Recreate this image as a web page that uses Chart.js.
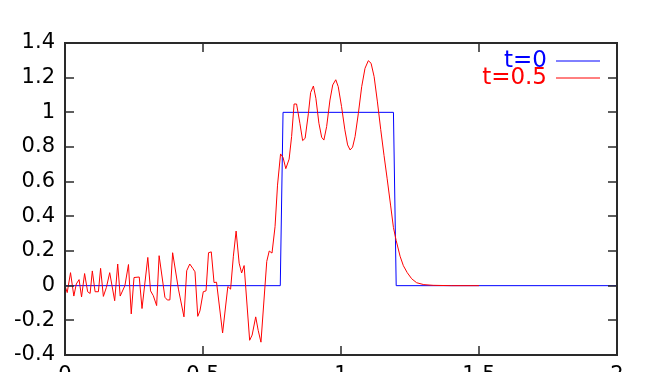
<!DOCTYPE html>
<html>
<head>
<meta charset="utf-8">
<script src="https://cdn.jsdelivr.net/npm/chart.js@4/dist/chart.umd.min.js"></script>
<style>
  html, body { margin: 0; padding: 0; background: #fff; overflow: hidden; }
  #wrap { width: 645px; height: 372px; }
  canvas { display: block; }
</style>
</head>
<body>
<div id="wrap"><canvas id="chart" width="645" height="372"></canvas></div>
<script>
// series names as shown in the key
const seriesNames = ['t=0', 't=0.5']
const seriesColours = ['#0000ff', '#ff0000']

// t=0 : the initial square pulse
const stepX = [0, 0.78, 0.79, 1.19, 1.2, 2]
const stepY = [0, 0, 1, 1, 0, 0]

// t=0.5
const waveX = [
  0, 0.008, 0.02, 0.032, 0.041, 0.051, 0.06, 0.071, 0.082, 0.091,
  0.099, 0.109, 0.121, 0.129, 0.139, 0.15, 0.162, 0.18, 0.191, 0.2,
  0.217, 0.23, 0.24, 0.25, 0.269, 0.279, 0.3, 0.31, 0.32, 0.332,
  0.341, 0.362, 0.371, 0.38, 0.39, 0.411, 0.431, 0.441, 0.452, 0.463,
  0.471, 0.481, 0.489, 0.501, 0.511, 0.52, 0.53, 0.54, 0.549, 0.571,
  0.59, 0.6, 0.61, 0.62, 0.631, 0.64, 0.649, 0.669, 0.678, 0.691,
  0.7, 0.71, 0.731, 0.74, 0.75, 0.761, 0.77, 0.781, 0.79, 0.8,
  0.812, 0.821, 0.83, 0.839, 0.851, 0.861, 0.87, 0.882, 0.89, 0.9,
  0.909, 0.92, 0.93, 0.938, 0.948, 0.96, 0.97, 0.981, 0.99, 1.002,
  1.014, 1.024, 1.033, 1.042, 1.051, 1.063, 1.075, 1.087, 1.099, 1.109,
  1.12, 1.132, 1.144, 1.156, 1.167, 1.18, 1.19, 1.2, 1.214, 1.226,
  1.24, 1.256, 1.274, 1.3, 1.334, 1.4, 1.5
]
const waveY = [
  0, -0.04, 0.075, -0.06, 0.01, 0.035, -0.065, 0.07, -0.035, -0.045,
  0.085, -0.035, -0.035, 0.1, -0.062, -0.01, 0.075, -0.087, 0.125, -0.06,
  0.0, 0.122, -0.163, 0.047, 0.05, -0.132, 0.163, -0.03, -0.058, -0.115,
  0.173, -0.067, -0.083, -0.082, 0.19, -0.02, -0.18, 0.086, 0.125, 0.1,
  0.08, -0.177, -0.145, -0.035, -0.03, 0.19, 0.195, 0.018, 0.02, -0.273,
  -0.005, -0.02, 0.17, 0.315, 0.13, 0.073, 0.116, -0.315, -0.285, -0.18,
  -0.258, -0.326, 0.14, 0.2, 0.188, 0.34, 0.58, 0.76, 0.74, 0.675,
  0.73, 0.86, 1.048, 1.048, 0.937, 0.837, 0.85, 0.995, 1.114, 1.152,
  1.081, 0.937, 0.856, 0.84, 0.918, 1.071, 1.158, 1.188, 1.148, 1.033,
  0.899, 0.812, 0.783, 0.799, 0.86, 0.995, 1.148, 1.254, 1.298, 1.283,
  1.206, 1.06, 0.9, 0.75, 0.62, 0.46, 0.335, 0.26, 0.17, 0.115,
  0.075, 0.04, 0.017, 0.006, 0.002, 0, 0
]

const xTicks = [0, 0.5, 1, 1.5, 2]
const yTicks = [-0.4, -0.2, 0, 0.2, 0.4, 0.6, 0.8, 1, 1.2, 1.4]

const FONT = 'DejaVu Sans'

function toPoints (xs, ys) {
  return xs.map((x, i) => ({ x, y: ys[i] }))
}

// labels may hang over the plot edges, like gnuplot does
function noLabelPadding (scale) {
  scale.paddingTop = 0
  scale.paddingBottom = 0
  scale.paddingLeft = 0
  scale.paddingRight = 0
}

// gnuplot style box with inward ticks on all four sides
const framePlugin = {
  id: 'frame',
  afterDraw (chart) {
    const { ctx, chartArea: a, scales } = chart
    const l = Math.round(a.left)
    const r = Math.round(a.right)
    const t = Math.round(a.top)
    const b = Math.round(a.bottom)
    const len = 9
    ctx.save()
    ctx.strokeStyle = '#2a2a2a'
    ctx.lineWidth = 1.5
    ctx.beginPath()
    for (const v of yTicks) {
      const py = Math.round(scales.y.getPixelForValue(v))
      ctx.moveTo(l, py); ctx.lineTo(l + len, py)
      ctx.moveTo(r, py); ctx.lineTo(r - len, py)
    }
    for (const v of xTicks) {
      const px = Math.round(scales.x.getPixelForValue(v))
      ctx.moveTo(px, b); ctx.lineTo(px, b - len)
      ctx.moveTo(px, t); ctx.lineTo(px, t + len)
    }
    ctx.stroke()
    // the four sides of the box
    ctx.lineWidth = 2
    ctx.beginPath()
    ctx.moveTo(l, t); ctx.lineTo(r, t)
    ctx.lineTo(r, b); ctx.lineTo(l, b)
    ctx.closePath()
    ctx.stroke()
    ctx.restore()
  }
}

// key in the top right corner: label then line sample
const keyPlugin = {
  id: 'key',
  afterDraw (chart) {
    const { ctx, chartArea: a } = chart
    const textRight = a.right - 70
    const lineLeft = a.right - 61
    const lineRight = a.right - 17
    ctx.save()
    ctx.font = '23px "' + FONT + '"'
    ctx.textAlign = 'right'
    ctx.textBaseline = 'middle'
    chart.data.datasets.forEach((ds, i) => {
      const y = a.top + 18 + i * 17
      ctx.fillStyle = ds.borderColor
      ctx.fillText(ds.label, textRight, y)
      ctx.strokeStyle = ds.borderColor
      ctx.lineWidth = 1
      ctx.beginPath()
      ctx.moveTo(lineLeft, y)
      ctx.lineTo(lineRight, y)
      ctx.stroke()
    })
    ctx.restore()
  }
}

const tickFont = { family: FONT, size: 21 }

new Chart(document.getElementById('chart'), { // eslint-disable-line
  type: 'line',
  data: {
    datasets: [
      {
        label: seriesNames[0],
        data: toPoints(stepX, stepY),
        borderColor: seriesColours[0],
        borderWidth: 1,
        pointRadius: 0,
        tension: 0,
        order: 2
      },
      {
        label: seriesNames[1],
        data: toPoints(waveX, waveY),
        borderColor: seriesColours[1],
        borderWidth: 1,
        pointRadius: 0,
        tension: 0,
        order: 1
      }
    ]
  },
  options: {
    responsive: false,
    animation: false,
    layout: { padding: { left: 0, right: 28, top: 43, bottom: 0 } },
    plugins: {
      legend: { display: false },
      tooltip: { enabled: false }
    },
    scales: {
      x: {
        type: 'linear',
        min: 0,
        max: 2,
        afterBuildTicks: (scale) => { scale.ticks = xTicks.map(v => ({ value: v })) },
        afterFit: (scale) => { scale.height = 17; noLabelPadding(scale) },
        grid: { display: false, drawTicks: false },
        border: { display: false },
        ticks: {
          color: '#000',
          font: tickFont,
          padding: 8,
          maxRotation: 0,
          callback: (v) => String(+v.toFixed(1))
        }
      },
      y: {
        type: 'linear',
        min: -0.4,
        max: 1.4,
        afterBuildTicks: (scale) => { scale.ticks = yTicks.map(v => ({ value: v })) },
        afterFit: (scale) => { scale.width = 65; noLabelPadding(scale) },
        grid: { display: false, drawTicks: false },
        border: { display: false },
        ticks: {
          color: '#000',
          font: tickFont,
          padding: 10,
          callback: (v) => String(+v.toFixed(1))
        }
      }
    }
  },
  plugins: [framePlugin, keyPlugin]
})
</script>
</body>
</html>
